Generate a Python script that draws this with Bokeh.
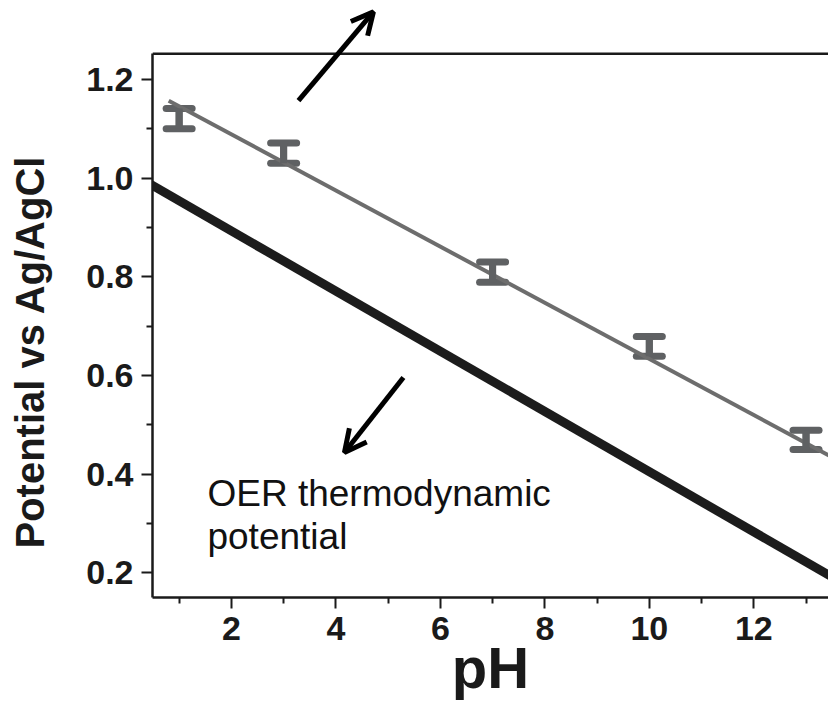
import math
from bokeh.plotting import figure
from bokeh.models import (Label, Arrow, OpenHead, Whisker, TeeHead, FixedTicker,
                          NumeralTickFormatter, ColumnDataSource, Range1d, Span, Title,
                          LinearAxis)
from bokeh.embed import file_html
from bokeh.resources import INLINE

# ---- data ----
ph_points = [1, 3, 7, 10, 13]
pot_upper = [1.141, 1.071, 0.830, 0.679, 0.489]
pot_lower = [1.100, 1.030, 0.789, 0.639, 0.450]

fit_ph = [0.8, 14.0]
fit_pot = [1.157, 0.406]

oer_ph = [0.0, 14.0]
oer_pot = [1.015, 0.161]

x_major_ticks = [2, 4, 6, 8, 10, 12]
x_minor_ticks = [1, 3, 5, 7, 9, 11, 13]
y_major_ticks = [0.2, 0.4, 0.6, 0.8, 1.0, 1.2]
y_minor_ticks = [0.3, 0.5, 0.7, 0.9, 1.1]

x_title = "pH"
y_title = "Potential vs Ag/AgCl"
note_line1 = "OER thermodynamic"
note_line2 = "potential"

FONT = "Liberation Sans"
AXIS_COLOR = "#1a1a1a"
GRAY = "#6d6d6d"
BAR_GRAY = "#5f6163"

p = figure(width=828, height=711, output_backend="svg", toolbar_location=None,
           x_range=Range1d(0.49, 13.43), y_range=Range1d(0.15, 1.36),
           min_border_left=152, min_border_top=0, min_border_bottom=114,
           min_border_right=0)
p.grid.visible = False
p.outline_line_color = None
p.background_fill_color = "white"
p.border_fill_color = "white"

# lines
p.line(oer_ph, oer_pot, line_color="#1c1c1c", line_width=9)
p.line(fit_ph, fit_pot, line_color=GRAY, line_width=4)

# error bars
src = ColumnDataSource(dict(x=ph_points, lo=pot_lower, hi=pot_upper))
p.segment(x0="x", y0="lo", x1="x", y1="hi", source=src, line_color=BAR_GRAY,
          line_width=7)
wh = Whisker(base="x", lower="lo", upper="hi", source=src, line_color=BAR_GRAY,
             line_width=7,
             upper_head=TeeHead(size=26, line_color=BAR_GRAY, line_width=7, line_cap="round"),
             lower_head=TeeHead(size=26, line_color=BAR_GRAY, line_width=7, line_cap="round"))
p.add_layout(wh)

# axes
for ax in (p.xaxis[0], p.yaxis[0]):
    ax.axis_line_color = AXIS_COLOR
    ax.axis_line_width = 2.5
    ax.major_tick_line_color = AXIS_COLOR
    ax.minor_tick_line_color = AXIS_COLOR
    ax.major_tick_line_width = 2
    ax.minor_tick_line_width = 2
    ax.major_tick_in = 0
    ax.major_tick_out = 11
    ax.minor_tick_in = 0
    ax.minor_tick_out = 6
    ax.major_label_text_font = FONT
    ax.major_label_text_font_style = "bold"
    ax.major_label_text_font_size = "34px"
    ax.major_label_text_color = AXIS_COLOR

p.xaxis[0].ticker = FixedTicker(ticks=x_major_ticks, minor_ticks=x_minor_ticks)
p.yaxis[0].ticker = FixedTicker(ticks=y_major_ticks, minor_ticks=y_minor_ticks)
p.xaxis[0].formatter = NumeralTickFormatter(format="0")
p.yaxis[0].formatter = NumeralTickFormatter(format="0.0")
p.xaxis[0].major_label_standoff = 8
p.yaxis[0].major_label_standoff = 8
p.yaxis[0].bounds = (0.15, 1.252)

p.xaxis[0].axis_label = x_title
p.xaxis[0].axis_label_text_font = FONT
p.xaxis[0].axis_label_text_font_style = "bold"
p.xaxis[0].axis_label_text_font_size = "58px"
p.xaxis[0].axis_label_text_color = AXIS_COLOR
p.xaxis[0].axis_label_standoff = -8

# top frame border
p.add_layout(Span(location=1.252, dimension="width", line_color=AXIS_COLOR,
                  line_width=2.5))

# spacer between y axis and its title (white tick on white, no labels)
spacer = LinearAxis(ticker=FixedTicker(ticks=[0.7], minor_ticks=[]), axis_line_color=None,
                    major_tick_line_color="white", minor_tick_line_color=None,
                    major_tick_in=0, major_tick_out=30, minor_tick_in=0,
                    minor_tick_out=0, major_label_standoff=0,
                    major_label_text_color=None)
p.add_layout(spacer, "left")

# y title
yt = Title(text=y_title, align="left", offset=49, vertical_align="bottom", standoff=4,
           text_font=FONT, text_font_style="bold", text_font_size="40px",
           text_color=AXIS_COLOR)
p.add_layout(yt, "left")

# annotation text
p.add_layout(Label(x=1.542, y=0.36, text=note_line1, text_font=FONT,
                   text_font_size="37px", text_color="#111111",
                   text_baseline="alphabetic"))
p.add_layout(Label(x=1.542, y=0.273, text=note_line2, text_font=FONT,
                   text_font_size="37px", text_color="#111111",
                   text_baseline="alphabetic"))

# arrows
p.add_layout(Arrow(x_start=3.284, y_start=1.157, x_end=4.719, y_end=1.337,
                   line_width=5, line_color="black",
                   end=OpenHead(size=22, line_width=5, line_color="black")))
p.add_layout(Arrow(x_start=5.293, y_start=0.596, x_end=4.164, y_end=0.444,
                   line_width=5, line_color="black",
                   end=OpenHead(size=22, line_width=5, line_color="black")))

open("out.html", "w").write(file_html(p, INLINE))
